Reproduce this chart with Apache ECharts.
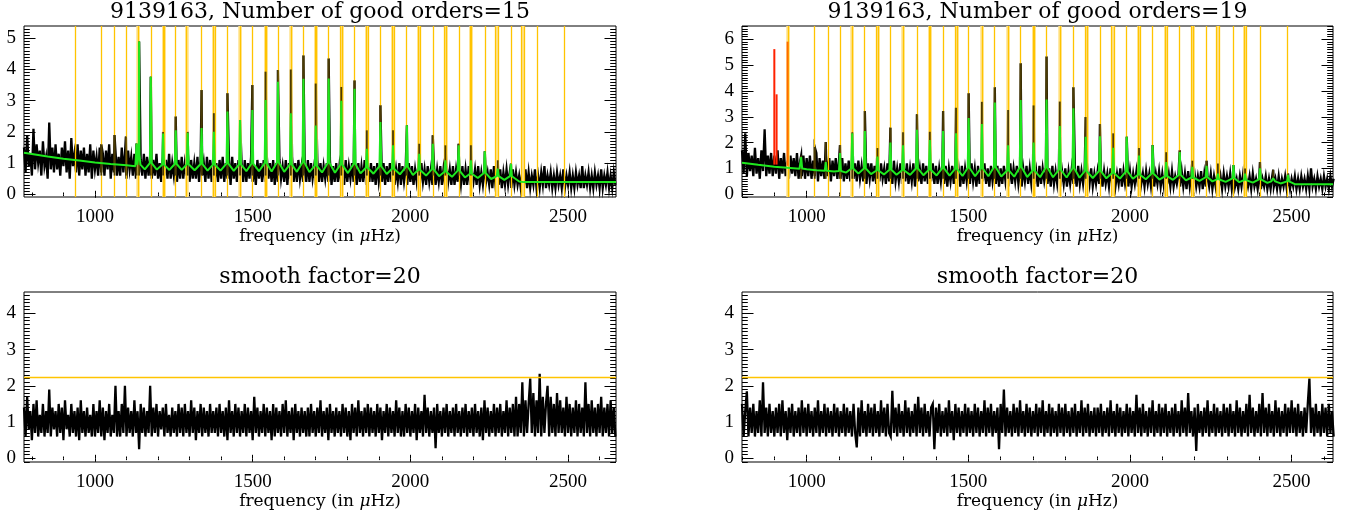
<!DOCTYPE html>
<html><head><meta charset="utf-8">
<script src="https://cdn.jsdelivr.net/npm/echarts@6/dist/echarts.min.js"></script>
<style>html,body{margin:0;padding:0;background:#fff}#c{width:1351px;height:518px}</style>
</head><body><div id="c"></div>
<script>
// ---------- titles / labels ----------
const titleTL = '9139163, Number of good orders=15';
const titleTR = '9139163, Number of good orders=19';
const titleB = 'smooth factor=20';
const xName = 'frequency (in {i|\u03bc}Hz)';
const xMajor = [1000, 1500, 2000, 2500];
const xMinor = [800, 900, 1100, 1200, 1300, 1400, 1600, 1700, 1800, 1900, 2100, 2200, 2300, 2400, 2600];
const yMajorTL = [0, 1, 2, 3, 4, 5];
const yMajorTR = [0, 1, 2, 3, 4, 5, 6];
const yMajorB = [0, 1, 2, 3, 4];

// ---------- spectra (5 uHz sampling) ----------
const stepF = 5;
const startL = 775, startR = 800;
const specTL = [
1.5,0.7,1.9,0.9,1.3,0.6,2.1,0.8,1.6,1.0,1.4,0.6,1.7,0.9,1.2,0.5,2.3,0.8,1.5,0.7,
1.6,0.8,1.3,0.6,1.5,0.9,1.7,0.7,1.4,0.5,1.8,0.9,1.3,0.7,1.6,0.6,1.4,0.8,1.5,0.6,
1.3,0.7,1.6,0.5,1.4,0.8,1.2,0.6,1.5,0.7,1.3,0.6,1.4,0.8,1.6,0.5,1.3,0.7,1.4,0.6,
1.2,0.6,1.5,0.7,1.3,0.5,1.4,0.8,1.2,0.6,1.3,0.5,1.4,0.7,1.1,0.6,1.3,0.5,1.2,0.6,
1.2,0.5,1.1,0.6,1.3,0.5,1.0,0.4,1.2,0.6,1.1,0.5,1.3,0.5,1.0,0.6,1.2,0.4,1.1,0.5,
1.2,0.5,1.0,0.6,1.3,0.4,1.1,0.5,1.0,0.5,1.2,0.4,1.1,0.6,1.0,0.4,1.2,0.5,1.1,0.4,
1.2,0.5,1.0,0.4,1.1,0.5,1.2,0.4,1.0,0.5,1.1,0.3,1.2,0.5,1.0,0.4,1.1,0.5,1.0,0.4,
1.1,0.4,1.0,0.5,1.2,0.4,0.9,0.3,1.1,0.5,1.0,0.4,1.1,0.4,1.2,0.5,1.0,0.4,1.1,0.3,
1.0,0.4,1.1,0.5,0.9,0.4,1.1,0.3,1.0,0.5,1.2,0.4,1.0,0.4,1.1,0.5,0.9,0.4,1.0,0.4,
1.1,0.4,1.0,0.5,0.9,0.3,1.1,0.4,1.0,0.4,0.9,0.5,1.0,0.4,1.1,0.3,0.9,0.4,1.0,0.4,
0.9,0.4,1.0,0.3,1.1,0.4,0.9,0.5,1.0,0.4,0.9,0.3,1.0,0.4,0.9,0.4,1.1,0.3,0.9,0.4,
1.0,0.4,0.9,0.3,1.0,0.4,0.8,0.4,1.0,0.3,0.9,0.4,1.0,0.4,0.9,0.3,0.8,0.4,1.0,0.3,
0.9,0.4,0.8,0.3,1.0,0.4,0.9,0.3,0.8,0.4,0.9,0.3,1.0,0.4,0.8,0.3,0.9,0.4,0.8,0.3,
0.9,0.3,0.8,0.4,0.9,0.3,0.8,0.3,0.9,0.4,0.8,0.3,0.9,0.3,0.8,0.4,0.7,0.3,0.9,0.3,
0.8,0.3,0.9,0.3,0.7,0.4,0.8,0.3,0.9,0.3,0.7,0.3,0.8,0.4,0.7,0.3,0.8,0.2,0.9,0.3,
0.7,0.3,0.8,0.2,0.7,0.3,0.8,0.3,0.7,0.2,0.8,0.3,0.7,0.3,0.6,0.2,0.7,0.3,0.8,0.2,
0.7,0.2,0.6,0.3,0.8,0.2,0.6,0.2,0.7,0.3,0.9,0.2,0.6,0.3,0.7,0.2,0.6,0.2,0.7,0.3,
0.6,0.2,0.8,0.2,0.6,0.3,0.7,0.2,0.6,0.2,0.7,0.3,0.6,0.2,0.9,0.2,0.6,0.3,0.7,0.2,
0.6,0.2,0.7,0.3,0.6,0.2,0.8,0.2,0.6,0.3,0.7,0.2,0.6,0.2,0.7,0.3];
const specTR = [
1.7,0.8,2.36,0.7,1.6,0.9,1.5,0.7,1.8,0.8,1.4,0.6,1.7,0.9,2.52,0.7,1.5,0.8,1.6,0.7,
1.5,0.8,1.7,0.6,1.4,0.8,1.6,0.7,1.3,0.6,1.5,0.8,1.4,0.7,1.6,0.6,1.3,0.7,1.5,0.6,
1.4,0.7,1.5,0.6,1.3,0.7,1.6,0.5,1.4,0.7,1.3,0.6,1.5,0.7,1.4,0.5,1.3,0.7,1.4,0.6,
1.3,0.6,1.4,0.5,1.2,0.6,1.3,0.5,1.4,0.6,1.2,0.5,1.3,0.6,1.1,0.5,1.3,0.4,1.2,0.6,
1.2,0.5,1.1,0.4,1.3,0.5,1.2,0.6,1.0,0.4,1.2,0.5,1.1,0.4,1.3,0.5,1.0,0.5,1.2,0.4,
1.1,0.5,1.2,0.4,1.0,0.5,1.2,0.3,1.1,0.5,1.0,0.4,1.2,0.5,1.1,0.4,1.0,0.5,1.2,0.4,
1.1,0.4,1.0,0.5,1.2,0.4,1.1,0.3,1.0,0.5,1.1,0.4,1.2,0.5,1.0,0.3,1.1,0.4,1.0,0.5,
1.1,0.4,1.2,0.5,1.0,0.3,1.1,0.4,1.0,0.5,1.2,0.4,1.0,0.3,1.1,0.5,1.0,0.4,1.1,0.3,
1.0,0.4,1.1,0.5,1.0,0.3,1.2,0.4,1.0,0.5,1.1,0.4,0.9,0.3,1.0,0.5,1.1,0.4,1.0,0.4,
1.0,0.4,0.9,0.3,1.1,0.4,1.0,0.5,0.9,0.4,1.0,0.3,1.1,0.4,0.9,0.4,1.0,0.3,0.9,0.4,
1.0,0.3,0.9,0.4,1.0,0.4,0.9,0.3,1.1,0.4,0.9,0.4,1.0,0.3,0.9,0.4,1.0,0.3,0.8,0.4,
0.9,0.4,1.0,0.3,0.9,0.4,0.8,0.3,1.0,0.4,0.9,0.3,0.8,0.4,1.0,0.3,0.9,0.4,0.8,0.3,
0.9,0.3,0.8,0.4,0.9,0.3,1.0,0.4,0.8,0.3,0.9,0.4,0.8,0.3,0.9,0.3,0.8,0.4,0.9,0.3,
0.8,0.3,0.9,0.4,0.8,0.3,0.9,0.3,0.7,0.4,0.8,0.3,0.9,0.3,0.8,0.2,0.9,0.3,0.8,0.4,
0.8,0.3,0.7,0.3,0.9,0.2,0.8,0.3,0.7,0.3,0.8,0.2,0.7,0.3,0.8,0.3,0.7,0.2,0.8,0.3,
0.7,0.3,0.8,0.2,0.7,0.3,0.6,0.2,0.7,0.3,0.8,0.2,0.6,0.3,0.7,0.2,0.8,0.3,0.6,0.2,
0.7,0.2,0.6,0.3,0.7,0.2,0.6,0.2,0.7,0.3,0.6,0.2,0.7,0.2,0.6,0.3,0.7,0.2,0.6,0.2,
0.6,0.3,0.7,0.2,0.6,0.2,0.7,0.3,0.6,0.2,0.7,0.2,1.0,0.3,0.6,0.2,0.7,0.3,0.6,0.2,
0.7,0.3,0.6,0.2,0.7,0.3,0.6];
const specBL = [
1.4,0.6,1.7,0.8,1.3,0.5,1.5,0.7,1.6,0.6,1.2,0.7,1.5,0.6,1.3,0.7,1.9,0.6,1.4,0.8,
1.3,0.6,1.5,0.7,1.4,0.5,1.6,0.8,1.2,0.6,1.5,0.7,1.3,0.6,1.4,0.5,1.6,0.7,1.3,0.6,
1.4,0.7,1.2,0.6,1.5,0.6,1.3,0.7,1.6,0.6,1.4,0.5,1.3,0.7,1.5,0.6,1.2,0.7,2.0,0.6,
1.3,0.6,1.5,0.7,2.0,0.6,1.4,0.7,1.3,0.6,1.6,0.7,1.3,0.25,1.5,0.7,1.4,0.6,1.3,0.7,
2.0,0.6,1.4,0.7,1.5,0.6,1.3,0.8,1.4,0.6,1.5,0.7,1.2,0.6,1.4,0.7,1.3,0.6,1.5,0.7,
1.4,0.6,1.5,0.7,1.3,0.6,1.6,0.7,1.4,0.5,1.3,0.7,1.5,0.6,1.4,0.7,1.3,0.6,1.5,0.7,
1.3,0.7,1.4,0.6,1.5,0.7,1.3,0.6,1.4,0.5,1.6,0.7,1.3,0.6,1.5,0.7,1.4,0.6,1.3,0.7,
1.5,0.6,1.4,0.7,1.3,0.5,1.7,0.7,1.4,0.6,1.3,0.7,1.5,0.6,1.4,0.7,1.3,0.5,1.5,0.6,
1.4,0.7,1.3,0.6,1.5,0.7,1.6,0.6,1.3,0.7,1.4,0.5,1.5,0.7,1.3,0.6,1.4,0.7,1.3,0.6,
1.4,0.6,1.5,0.7,1.3,0.6,1.4,0.7,1.6,0.6,1.3,0.7,1.4,0.5,1.5,0.7,1.3,0.6,1.4,0.7,
1.3,0.6,1.5,0.7,1.4,0.6,1.3,0.5,1.5,0.7,1.4,0.6,1.6,0.7,1.3,0.6,1.4,0.7,1.5,0.6,
1.4,0.7,1.3,0.6,1.5,0.7,1.4,0.5,1.3,0.7,1.5,0.6,1.4,0.7,1.3,0.6,1.6,0.7,1.4,0.6,
1.3,0.6,1.5,0.7,1.4,0.6,1.3,0.7,1.5,0.5,1.4,0.7,1.3,0.6,1.75,0.7,1.4,0.6,1.3,0.7,
1.4,0.28,1.5,0.7,1.3,0.6,1.4,0.7,1.5,0.6,1.3,0.7,1.4,0.6,1.5,0.7,1.3,0.6,1.4,0.7,
1.5,0.6,1.3,0.7,1.4,0.6,1.5,0.7,1.3,0.6,1.4,0.5,1.6,0.7,1.4,0.6,1.3,0.7,1.5,0.6,
1.4,0.7,1.5,0.6,1.3,0.7,1.6,0.6,1.4,0.7,1.5,0.6,1.7,0.6,1.5,0.7,2.1,0.6,1.6,0.7,
1.5,2.2,0.7,1.8,0.6,1.6,0.7,2.33,0.6,1.7,0.7,1.5,2.0,0.6,1.7,0.7,1.5,0.6,1.8,0.7,
1.6,0.7,1.4,0.6,1.7,0.7,1.5,0.6,1.4,0.7,1.6,0.6,1.5,0.7,1.4,0.6,2.1,0.7,1.5,0.6,
1.6,0.7,1.4,0.6,1.5,0.7,1.7,0.6,1.4,0.7,1.5,0.6,1.6,0.7,1.4,0.6];
const specBR = [
1.5,0.6,1.3,1.85,0.6,1.4,0.7,1.5,0.6,1.3,0.7,1.6,0.6,2.1,0.7,1.4,0.6,1.5,0.7,1.3,
0.6,1.4,0.7,1.5,0.6,1.6,0.7,1.3,0.5,1.4,0.7,1.5,0.6,1.3,0.7,1.4,0.6,1.6,0.7,1.4,
0.6,1.5,0.7,1.3,0.6,1.4,0.7,1.6,0.6,1.3,0.7,1.5,0.6,1.4,0.7,1.3,0.6,1.5,0.7,1.4,
0.6,1.3,0.7,1.5,0.6,1.4,0.7,1.3,0.6,1.5,0.7,0.3,1.4,0.6,1.6,0.7,1.3,0.6,1.5,0.7,
1.4,0.6,1.5,0.7,1.3,0.6,1.6,0.7,1.4,0.6,1.5,0.7,0.6,1.86,0.7,1.4,0.6,1.5,0.7,1.3,
0.6,1.6,0.7,1.4,0.6,1.3,0.7,1.5,0.6,1.7,0.7,1.4,0.6,1.5,0.7,1.3,0.6,1.4,1.5,0.25,
1.4,0.7,1.5,0.6,1.3,0.7,1.4,0.6,1.6,0.7,1.3,0.5,1.5,0.7,1.4,0.6,1.3,0.7,1.5,0.6,
1.4,0.7,1.3,0.6,1.5,0.7,1.4,0.6,1.3,0.7,1.6,0.6,1.4,0.7,1.5,0.6,1.3,0.7,1.4,0.25,
1.5,0.7,1.9,0.6,1.4,0.7,1.3,0.6,1.5,0.7,1.4,0.6,1.6,0.7,1.3,0.6,1.5,0.7,1.4,0.6,
1.3,0.7,1.5,0.6,1.4,0.7,1.6,0.6,1.3,0.7,1.5,0.6,1.4,0.7,1.3,0.6,1.5,0.7,1.4,0.6,
1.5,0.7,1.3,0.6,1.4,0.7,1.5,0.6,1.3,0.7,1.6,0.6,1.4,0.7,1.5,0.6,1.3,0.7,1.4,0.6,
1.4,0.7,1.5,0.6,1.3,0.7,1.4,0.6,1.6,0.7,1.3,0.6,1.5,0.7,1.4,0.6,1.3,0.7,1.5,0.6,
1.4,0.7,1.3,0.6,1.75,0.7,1.4,0.6,1.5,0.7,1.3,0.6,1.4,0.7,1.6,0.6,1.3,0.7,1.5,0.6,
1.4,0.7,1.5,0.6,1.3,0.7,1.4,0.6,1.5,0.7,1.3,0.6,1.6,0.7,1.4,0.6,1.8,0.7,1.3,0.6,
1.4,0.2,1.5,0.7,1.3,0.6,1.4,0.7,1.6,0.6,1.3,0.7,1.5,0.6,1.4,0.7,1.3,0.6,1.5,0.7,
1.4,0.6,1.5,0.7,1.3,0.6,1.6,0.7,1.4,0.6,1.3,0.7,1.5,0.6,1.75,0.7,1.4,0.6,1.3,0.7,
1.5,0.6,1.8,0.7,1.4,0.6,1.5,0.7,1.3,0.6,1.6,0.7,1.4,0.6,1.3,0.7,1.5,0.6,1.4,0.7,
1.6,0.7,1.4,0.6,1.5,0.7,1.3,0.6,1.4,0.7,1.5,2.2,0.7,1.4,0.6,1.5,0.7,1.3,0.6,1.5,
0.7,1.4,0.6,1.5,0.7,1.3,0.6];

// ---------- power peaks in the spectra (freq, height) ----------
const peaksTL = [[1020,1.6],[1062,1.9],[1098,1.85],[1132,1.63],[1140,4.9],[1177,3.77],[1216,2.0],[1256,2.49],[1294,2.0],[1338,3.34],[1377,2.6],[1420,3.24],[1460,2.38],[1499,3.5],[1541,3.93],[1580,3.98],[1621,4.0],[1661,4.45],[1700,3.55],[1741,4.35],[1781,3.44],[1823,3.65],[1862,2.05],[1905,2.85],[1945,2.05],[1989,2.21],[2028,1.62],[2071,1.89],[2111,1.57],[2153,1.62],[2192,1.57],[2236,1.38],[2277,1.09],[2319,0.98]];
const peaksTR = [[983,1.5],[1025,1.83],[1059,2.02],[1103,1.91],[1141,2.4],[1180,3.22],[1219,1.79],[1259,2.58],[1298,2.4],[1341,3.1],[1381,2.42],[1422,3.22],[1462,3.35],[1501,3.91],[1542,3.58],[1582,4.14],[1623,3.26],[1662,5.07],[1702,3.44],[1742,5.33],[1783,3.59],[1825,4.14],[1863,2.99],[1907,2.72],[1948,2.36],[1990,2.23],[2028,1.79],[2070,1.91],[2112,1.63],[2154,1.7],[2193,1.3],[2237,1.3],[2272,1.19],[2320,1.13],[2356,1.0],[2402,1.25],[2443,0.95],[2489,0.8]];
const peakFoot = 0.6;

// ---------- fitted model (green) ----------
const modelTL = [[775,1.33],[800,1.29],[850,1.21],[900,1.14],[950,1.08],[1000,1.02],[1050,0.97],[1100,0.93],[1128,0.9],[1131,0.9],[1132,1.63],[1134,0.95],[1137,0.92],[1139,1.3],[1140,4.9],[1141,1.3],[1144,0.95],[1158,0.8],[1174,1.0],[1177,3.77],[1180,1.0],[1196,0.79],[1213,0.95],[1216,1.95],[1219,0.95],[1236,0.78],[1253,0.97],[1256,2.05],[1259,0.97],[1275,0.78],[1291,0.96],[1294,1.97],[1297,0.96],[1316,0.77],[1335,0.97],[1338,2.12],[1341,0.97],[1357,0.76],[1374,0.95],[1377,2.0],[1380,0.95],[1398,0.76],[1417,0.98],[1420,2.65],[1423,0.98],[1440,0.75],[1457,0.96],[1460,2.38],[1463,0.96],[1480,0.74],[1496,0.98],[1499,2.7],[1502,0.98],[1520,0.74],[1538,1.0],[1541,3.02],[1544,1.0],[1560,0.73],[1577,1.02],[1580,3.61],[1583,1.02],[1600,0.72],[1618,0.96],[1621,2.6],[1624,0.96],[1640,0.72],[1658,1.02],[1661,3.7],[1664,1.02],[1680,0.71],[1697,0.92],[1700,2.2],[1703,0.92],[1720,0.7],[1738,1.0],[1741,3.71],[1744,1.0],[1761,0.69],[1778,0.95],[1781,3.0],[1784,0.95],[1802,0.68],[1820,0.97],[1823,3.38],[1826,0.97],[1842,0.67],[1859,0.85],[1862,1.46],[1865,0.85],[1883,0.66],[1902,0.9],[1905,2.32],[1908,0.9],[1925,0.65],[1942,0.82],[1945,1.57],[1948,0.82],[1967,0.64],[1986,0.88],[1989,2.21],[1992,0.88],[2008,0.62],[2025,0.78],[2028,1.3],[2031,0.78],[2050,0.6],[2068,0.8],[2071,1.62],[2074,0.8],[2091,0.58],[2108,0.72],[2111,1.09],[2114,0.72],[2132,0.56],[2150,0.76],[2153,1.57],[2156,0.76],[2173,0.54],[2189,0.66],[2192,1.09],[2195,0.66],[2214,0.52],[2233,0.68],[2236,1.38],[2239,0.68],[2256,0.49],[2274,0.58],[2277,0.82],[2280,0.58],[2298,0.46],[2316,0.58],[2319,0.98],[2322,0.58],[2345,0.41],[2360,0.39],[2652,0.39]];
const modelTR = [[800,1.22],[850,1.14],[900,1.07],[950,1.02],[978,0.99],[981,1.0],[983,1.44],[986,1.0],[1000,0.97],[1030,0.93],[1056,0.91],[1059,1.25],[1062,0.91],[1085,0.88],[1100,0.9],[1103,1.6],[1106,0.9],[1122,0.84],[1138,1.0],[1141,2.36],[1144,1.0],[1160,0.8],[1177,1.0],[1180,2.45],[1183,1.0],[1199,0.78],[1216,0.92],[1219,1.46],[1222,0.92],[1239,0.77],[1256,0.95],[1259,2.0],[1262,0.95],[1278,0.76],[1295,0.93],[1298,1.9],[1301,0.93],[1320,0.75],[1338,1.0],[1341,2.5],[1344,1.0],[1361,0.74],[1378,0.95],[1381,2.1],[1384,0.95],[1402,0.73],[1419,1.0],[1422,2.45],[1425,1.0],[1442,0.72],[1459,0.98],[1462,2.36],[1465,0.98],[1482,0.71],[1498,1.02],[1501,2.95],[1504,1.02],[1521,0.7],[1539,1.0],[1542,2.72],[1545,1.0],[1562,0.7],[1579,1.05],[1582,3.55],[1585,1.05],[1602,0.69],[1620,0.92],[1623,1.9],[1626,0.92],[1642,0.68],[1659,1.05],[1662,3.65],[1665,1.05],[1682,0.67],[1699,0.92],[1702,2.0],[1705,0.92],[1722,0.66],[1739,1.03],[1742,3.67],[1745,1.03],[1762,0.66],[1780,0.95],[1783,2.64],[1786,0.95],[1804,0.65],[1822,1.0],[1825,3.33],[1828,1.0],[1844,0.64],[1860,0.9],[1863,2.23],[1866,0.9],[1885,0.63],[1904,0.9],[1907,2.25],[1910,0.9],[1927,0.62],[1945,0.82],[1948,1.8],[1951,0.82],[1969,0.61],[1987,0.88],[1990,2.23],[1993,0.88],[2009,0.6],[2025,0.76],[2028,1.5],[2031,0.76],[2049,0.58],[2067,0.8],[2070,1.9],[2073,0.8],[2091,0.57],[2109,0.7],[2112,1.25],[2115,0.7],[2133,0.56],[2151,0.75],[2154,1.64],[2157,0.75],[2173,0.54],[2190,0.65],[2193,1.06],[2196,0.65],[2215,0.52],[2234,0.66],[2237,1.1],[2240,0.66],[2255,0.5],[2269,0.58],[2272,0.8],[2275,0.58],[2296,0.48],[2317,0.62],[2320,1.13],[2323,0.62],[2338,0.47],[2353,0.55],[2356,0.8],[2359,0.55],[2380,0.45],[2399,0.58],[2402,1.0],[2405,0.58],[2425,0.44],[2437,0.5],[2443,0.62],[2449,0.5],[2466,0.42],[2486,0.5],[2489,0.75],[2492,0.5],[2510,0.39],[2628,0.39]];

// ---------- mode frequencies (vertical lines) ----------
const modesTL = [937.5,1020,1062.5,1098,1137,1177,1215,1219,1256,1291,1338,1375,1380.5,1420,1460,1499,1539,1544.5,1580,1621,1661,1698,1703,1741,1779,1783,1823.5,1859.5,1865,1905,1942,1948,1988.5,2025,2031.5,2071,2108,2114,2153.5,2189,2194.5,2236,2268.5,2279,2319,2353,2360.5,2402,2488];
const bandsTL = [1137,1217,1291,1378,1460,1542,1621,1700,1781,1862,1945,2028,2111,2192,2274,2357];
const modesTR = [942,1025,1066,1103,1141,1179,1216.5,1220.5,1258.5,1298,1341,1379,1383.5,1421.5,1461,1465,1501,1542,1581.5,1622.5,1662,1700,1705,1742,1783.5,1824.5,1861,1868,1907,1943.5,1950.5,1990,2025.5,2031,2069,2108,2115.5,2153.5,2191,2196,2237,2268,2276,2319.5,2352.5,2360,2402,2486.5];
const bandsTR = [942,1141,1218.5,1298,1381,1463,1542,1623,1702,1783.5,1865,1947,2028,2112,2193,2272,2356];
// rejected spikes [freq, from, to]
const redSpikes = [[900,1.15,5.62],[907,1.15,3.87]];
const orangeSpikes = [[941,1.1,5.91]];
const threshold = 2.23;

// ---------- layout ----------
const grids = [
  {left:24, top:26, width:592, height:171},
  {left:742, top:26, width:591, height:171},
  {left:24, top:292, width:592, height:170},
  {left:742, top:292, width:591, height:170}
];
const xr = [[775,2652],[800,2628],[775,2652],[800,2628]];
const yr = [[-0.087,5.394],[-0.105,6.515],[-0.102,4.588],[-0.102,4.588]];
const yMaj = [yMajorTL, yMajorTR, yMajorB, yMajorB];

function minorsOf(major, step, lo, hi){
  const out=[]; const n=Math.round((hi-lo)/step);
  for(let k=0;k<=n;k++){const v=+(lo+k*step).toFixed(3); if(!major.some(m=>Math.abs(m-v)<1e-6) && v>=lo && v<=hi) out.push(v);}
  return out;
}
const tickFont = 'Liberation Serif';
const plain = v => String(v);
const xAxes=[], yAxes=[];
grids.forEach((g,gi)=>{
  const [x0,x1]=xr[gi], [y0,y1]=yr[gi];
  const base = {gridIndex:gi, type:'value', min:x0, max:x1, axisLine:{show:false}, splitLine:{show:false}, axisPointer:{show:false}};
  const tl = {color:'#000', width:1};
  xAxes.push(Object.assign({}, base, {position:'bottom',
    axisTick:{show:true, inside:true, length:3.5, customValues:xMajor, lineStyle:tl},
    axisLabel:{show:true, customValues:xMajor, formatter:plain, margin:11, fontFamily:tickFont, fontSize:19, color:'#000'},
    name:xName, nameLocation:'middle', nameGap:30,
    nameTextStyle:{fontFamily:'DejaVu Serif', fontSize:17, color:'#000', rich:{i:{fontFamily:'DejaVu Serif', fontStyle:'italic', fontSize:17, color:'#000'}}}}));
  xAxes.push(Object.assign({}, base, {position:'bottom', axisLabel:{show:false}, axisTick:{show:true, inside:true, length:1.8, customValues:xMinor, lineStyle:tl}}));
  xAxes.push(Object.assign({}, base, {position:'top', axisLabel:{show:false}, axisTick:{show:true, inside:true, length:3.5, customValues:xMajor, lineStyle:tl}}));
  xAxes.push(Object.assign({}, base, {position:'top', axisLabel:{show:false}, axisTick:{show:true, inside:true, length:1.8, customValues:xMinor, lineStyle:tl}}));
  const ybase = {gridIndex:gi, type:'value', min:y0, max:y1, axisLine:{show:false}, splitLine:{show:false}, axisPointer:{show:false}};
  const ym = yMaj[gi];
  const ymin = minorsOf(ym, 0.1, Math.ceil(y0*10)/10, Math.floor(y1*10)/10);
  yAxes.push(Object.assign({}, ybase, {position:'left',
    axisTick:{show:true, inside:true, length:11.5, customValues:ym, lineStyle:tl},
    axisLabel:{show:true, customValues:ym, formatter:plain, margin:8, fontFamily:tickFont, fontSize:19, color:'#000'}}));
  yAxes.push(Object.assign({}, ybase, {position:'left', axisLabel:{show:false}, axisTick:{show:true, inside:true, length:5.8, customValues:ymin, lineStyle:tl}}));
  yAxes.push(Object.assign({}, ybase, {position:'right', axisLabel:{show:false}, axisTick:{show:true, inside:true, length:11.5, customValues:ym, lineStyle:tl}}));
  yAxes.push(Object.assign({}, ybase, {position:'right', axisLabel:{show:false}, axisTick:{show:true, inside:true, length:5.8, customValues:ymin, lineStyle:tl}}));
});

function sampled(start, vals){ return vals.map((v,i)=>[start+stepF*i, v]); }
function merged(pts, extra){ return pts.concat(extra).sort((a,b)=>a[0]-b[0]); }
function vlines(bands, modes){
  return bands.map(f=>({xAxis:f, lineStyle:{color:'#FFE38E', width:3.5, type:'solid'}}))
    .concat(modes.map(f=>({xAxis:f, lineStyle:{color:'#FFC400', width:1.3, type:'solid'}})));
}
const mlBase = {symbol:'none', silent:true, animation:false, label:{show:false}, emphasis:{disabled:true}, lineStyle:{type:'solid', color:'#FFC400'}};

function specSeries(gi, data, markData){
  const s = {type:'line', xAxisIndex:gi*4, yAxisIndex:gi*4, data, symbol:'none', showSymbol:false,
    lineStyle:{color:'#000', width:2.3, join:'miter'}, z:2, silent:true, animation:false};
  if(markData) s.markLine = Object.assign({}, mlBase, {data:markData});
  return s;
}
function modelSeries(gi, data){
  return {type:'line', xAxisIndex:gi*4, yAxisIndex:gi*4, data, symbol:'none', showSymbol:false,
    lineStyle:{color:'#1EE81E', width:2}, z:8, silent:true, animation:false};
}
function segSeries(gi, sp, color, w, z){
  return sp.map(s=>({type:'line', xAxisIndex:gi*4, yAxisIndex:gi*4, data:[[s[0],s[1]],[s[0],s[2]]], symbol:'none',
    lineStyle:{color, width:w}, z, silent:true, animation:false}));
}
// peak tips drawn over the mode lines
const tipsTL = peaksTL.map(p=>[p[0], peakFoot, p[1]]);
const tipsTR = peaksTR.map(p=>[p[0], peakFoot, p[1]]);

const series = [
  specSeries(0, merged(sampled(startL, specTL), peaksTL), vlines(bandsTL, modesTL)),
  ...segSeries(0, tipsTL, '#4A3B05', 1.8, 6),
  modelSeries(0, modelTL),
  specSeries(1, merged(sampled(startR, specTR), peaksTR), vlines(bandsTR, modesTR)),
  ...segSeries(1, tipsTR, '#4A3B05', 1.8, 6),
  modelSeries(1, modelTR),
  ...segSeries(1, redSpikes, '#FF2200', 2, 9),
  ...segSeries(1, orangeSpikes, '#FF6A00', 2, 9),
  specSeries(2, sampled(startL, specBL), [{yAxis:threshold, lineStyle:{color:'#FFC400', width:1.3, type:'solid'}}]),
  specSeries(3, sampled(startR, specBR), [{yAxis:threshold, lineStyle:{color:'#FFC400', width:1.3, type:'solid'}}])
];

const tFont = '22px "DejaVu Serif"';
const graphic = [
  {type:'text', x:320, y:12, style:{text:titleTL, font:tFont, fill:'#000', align:'center', verticalAlign:'middle'}},
  {type:'text', x:1037.5, y:12, style:{text:titleTR, font:tFont, fill:'#000', align:'center', verticalAlign:'middle'}},
  {type:'text', x:320, y:277, style:{text:titleB, font:tFont, fill:'#000', align:'center', verticalAlign:'middle'}},
  {type:'text', x:1037.5, y:277, style:{text:titleB, font:tFont, fill:'#000', align:'center', verticalAlign:'middle'}}
];

const chart = echarts.init(document.getElementById('c'), null, {renderer:'canvas'});
chart.setOption({
  animation:false,
  backgroundColor:'#fff',
  grid: grids.map(g=>Object.assign({show:true, borderColor:'#000', borderWidth:1, backgroundColor:'transparent', containLabel:false}, g)),
  xAxis:xAxes, yAxis:yAxes, series, graphic
});
</script></body></html>
